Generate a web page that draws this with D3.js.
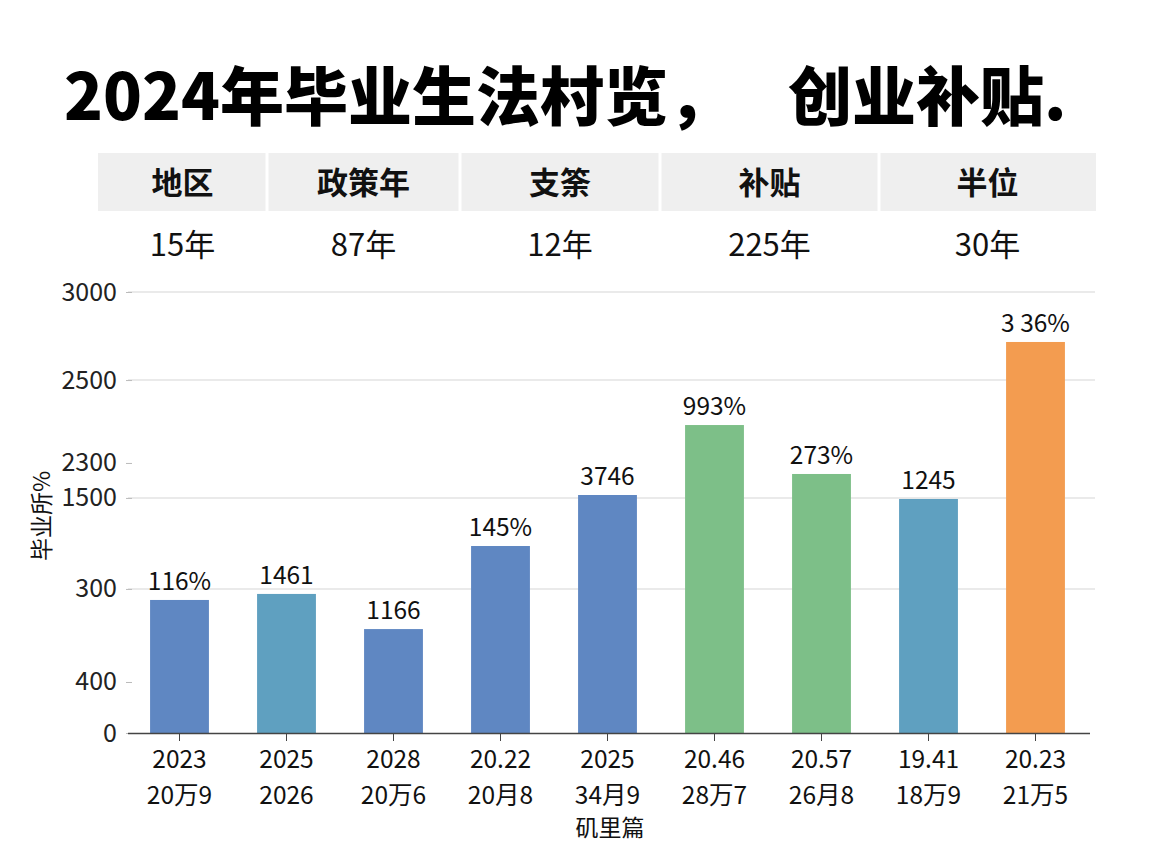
<!DOCTYPE html>
<html><head><meta charset="utf-8">
<script src="https://cdn.jsdelivr.net/npm/d3@7/dist/d3.min.js"></script>
<style>body{margin:0;background:#fff}svg{display:block}text{font-family:"Noto Sans CJK SC","Noto Sans",sans-serif}</style>
</head><body><svg id="c" width="1152" height="864"></svg>
<script>
const titleText = "2024年毕业生法村览，";
const titleText2 = "创业补贴.";
const tableHeaders = ["地区","政策年","支筡","补贴","半位"];
const tableValues = ["15年","87年","12年","225年","30年"];
const categories = ["c1","c2","c3","c4","c5","c6","c7","c8","c9"];
const xLine1 = ["2023","2025","2028","20.22","2025","20.46","20.57","19.41","20.23"];
const xLine2 = ["20万9","2026","20万6","20月8","34月9","28万7","26月8","18万9","21万5"];
const values = [905, 946, 707, 1272, 1619, 2095, 1762, 1592, 2660];
const barLabels = ["116%","1461","1166","145%","3746","993%","273%","1245","3 36%"];
const barGroups = ["blue","teal","blue","blue","blue","green","green","teal","orange"];
const yTickPositions = [3000, 2401, 1837, 1599, 980, 347, 0];
const yTickLabels = ["3000","2500","2300","1500","300","400","0"];
const yTickGrid = [true, true, false, true, true, false, false];
const yAxisTitle = "毕业所%";
const xAxisTitle = "矶里篇";

const colors = {blue:"#5f87c2", teal:"#5fa0c0", green:"#7dbf88", orange:"#f39c50"};
const svg = d3.select("#c");

// Title
const t = svg.append("text").attr("y",120).attr("font-size",64).attr("font-weight",900).attr("fill","#000");
t.append("tspan").attr("x",64).text(titleText);
t.append("tspan").attr("x",788).text(titleText2);

// Table
const colEdges = [98, 267, 460, 660, 879, 1096];
const tg = svg.append("g");
tableHeaders.forEach((h,i) => {
  const x0 = colEdges[i] + (i>0?1.5:0), x1 = colEdges[i+1] - (i<4?1.5:0);
  tg.append("rect").attr("x",x0).attr("y",153).attr("width",x1-x0).attr("height",58).attr("fill","#efefef");
  tg.append("text").attr("x",(colEdges[i]+colEdges[i+1])/2).attr("y",194).attr("text-anchor","middle")
    .attr("font-size",31).attr("font-weight",700).attr("fill","#111").text(h);
  tg.append("text").attr("x",(colEdges[i]+colEdges[i+1])/2).attr("y",256).attr("text-anchor","middle")
    .attr("font-size",31).attr("fill","#111").text(tableValues[i]);
});

// Scales
const x = d3.scaleBand().domain(categories).range([126,1089]).paddingInner(0.45).paddingOuter(0.225);
const y = d3.scaleLinear().domain([0,3000]).range([733,292]);

// Grid
svg.append("g").selectAll("line").data(yTickPositions.filter((d,i)=>yTickGrid[i])).join("line")
  .attr("x1",128).attr("x2",1095).attr("y1",d=>y(d)).attr("y2",d=>y(d))
  .attr("stroke","#e3e3e3").attr("stroke-width",1.5);

// Y axis
const yAxis = d3.axisLeft(y).tickValues(yTickPositions).tickFormat((d,i)=>yTickLabels[i]).tickSize(6).tickPadding(9);
const yg = svg.append("g").attr("transform","translate(132,0)").call(yAxis);
yg.select(".domain").remove();
yg.selectAll(".tick line").attr("stroke","#bbb");
yg.selectAll(".tick text").attr("font-size",25).attr("fill","#222").attr("font-family","'Open Sans','Noto Sans',sans-serif");

// Bars
svg.append("g").selectAll("rect").data(values).join("rect")
  .attr("x",(d,i)=>x(categories[i])).attr("width",x.bandwidth())
  .attr("y",d=>y(d)).attr("height",d=>y(0)-y(d))
  .attr("fill",(d,i)=>colors[barGroups[i]]);

// Bar labels
svg.append("g").selectAll("text").data(values).join("text")
  .attr("x",(d,i)=>x(categories[i])+x.bandwidth()/2).attr("y",d=>y(d)-10)
  .attr("text-anchor","middle").attr("font-size",24.5).attr("fill","#111")
  .attr("font-family","'Open Sans','Noto Sans',sans-serif")
  .text((d,i)=>barLabels[i]);

// X axis
const xAxis = d3.axisBottom(x).tickFormat(()=>"").tickSize(8);
const xg = svg.append("g").attr("transform","translate(0,733)").call(xAxis);
xg.select(".domain").attr("d","M128,0.5H1090").attr("stroke","#444").attr("stroke-width",1.5);
xg.selectAll(".tick line").attr("stroke","#444");
const xl = svg.append("g");
categories.forEach((c,i)=>{
  const cx = x(c)+x.bandwidth()/2;
  xl.append("text").attr("x",cx).attr("y",768).attr("text-anchor","middle").attr("font-size",24.5).attr("fill","#111")
    .text(xLine1[i]);
  xl.append("text").attr("x",cx).attr("y",804).attr("text-anchor","middle").attr("font-size",24.5).attr("fill","#111")
    .text(xLine2[i]);
});
svg.append("text").attr("x",610).attr("y",836).attr("text-anchor","middle").attr("font-size",23).attr("fill","#111").text(xAxisTitle);
svg.append("text").attr("transform","translate(50,516) rotate(-90)").attr("text-anchor","middle").attr("font-size",23).attr("fill","#111").text(yAxisTitle);
</script></body></html>
